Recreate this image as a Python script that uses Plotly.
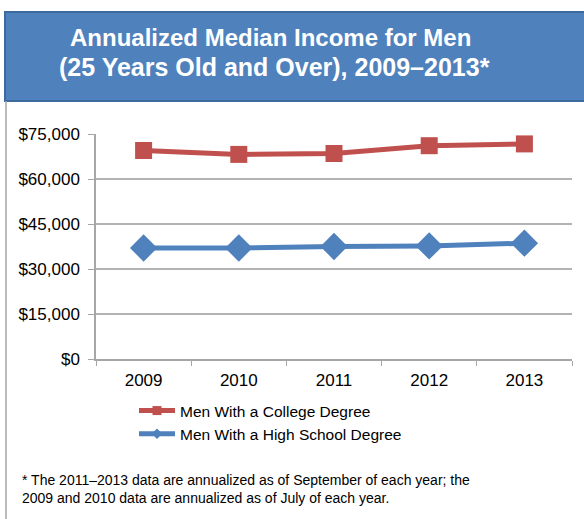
import plotly.graph_objects as go

years = ["2009", "2010", "2011", "2012", "2013"]
college = [69500, 68200, 68500, 71100, 71700]
high_school = [37000, 37000, 37500, 37700, 38600]
series_names = ["Men With a College Degree", "Men With a High School Degree"]
y_ticks = [0, 15000, 30000, 45000, 60000, 75000]
y_tick_labels = ["$" + format(v, ",") for v in y_ticks]

W, H = 584, 519
L, R, T, B = 96, 572, 134, 359  # plot area in px
pw, ph = R - L, B - T

def px_x(x):
    return (x - L) / pw

def px_y(y):
    return (B - y) / ph

RED = "#C0504D"
BLUE = "#4F81BD"
FONT = "Liberation Sans, Arial, sans-serif"

fig = go.Figure()
fig.add_trace(go.Scatter(x=years, y=college, mode="lines+markers", name=series_names[0],
                         line=dict(color=RED, width=5),
                         marker=dict(symbol="square", size=17, color=RED),
                         showlegend=False))
fig.add_trace(go.Scatter(x=years, y=high_school, mode="lines+markers", name=series_names[1],
                         line=dict(color=BLUE, width=5),
                         marker=dict(symbol="diamond", size=21, color=BLUE),
                         showlegend=False))
# legend entries with small symbols
fig.add_trace(go.Scatter(x=[None], y=[None], mode="lines+markers", name=series_names[0],
                         line=dict(color=RED, width=5),
                         marker=dict(symbol="square", size=9, color=RED)))
fig.add_trace(go.Scatter(x=[None], y=[None], mode="lines+markers", name=series_names[1],
                         line=dict(color=BLUE, width=5),
                         marker=dict(symbol="diamond", size=8, color=BLUE)))

shapes = [
    # title box
    dict(type="rect", xref="paper", yref="paper",
         x0=px_x(5), x1=px_x(600), y0=px_y(12), y1=px_y(101),
         fillcolor="#4F81BD", line=dict(color="#3D6A9E", width=2), layer="below"),
    # left frame line
    dict(type="line", xref="paper", yref="paper",
         x0=px_x(6), x1=px_x(6), y0=px_y(101), y1=px_y(525),
         line=dict(color="#A6A6A6", width=1.5)),
]

annotations = [
    dict(text="<b>Annualized Median Income for Men</b>", xref="paper", yref="paper",
         x=px_x(270), y=px_y(37), xanchor="center", yanchor="middle", showarrow=False,
         font=dict(family=FONT, size=24, color="white")),
    dict(text="<b>(25 Years Old and Over), 2009\u20132013*</b>", xref="paper", yref="paper",
         x=px_x(274), y=px_y(67), xanchor="center", yanchor="middle", showarrow=False,
         font=dict(family=FONT, size=25, color="white")),
    dict(text="* The 2011\u20132013 data are annualized as of September of each year; the<br>"
              "2009 and 2010 data are annualized as of July of each year.",
         xref="paper", yref="paper", x=px_x(20), y=px_y(489), xanchor="left", yanchor="middle",
         align="left", showarrow=False,
         font=dict(family=FONT, size=14, color="black")),
]

fig.update_layout(
    width=W, height=H,
    margin=dict(l=L, r=W - R, t=T, b=H - B, pad=0),
    paper_bgcolor="white", plot_bgcolor="white",
    font=dict(family=FONT, color="black"),
    shapes=shapes, annotations=annotations,
    legend=dict(x=px_x(134), y=px_y(394), xanchor="left", yanchor="top",
                font=dict(family=FONT, size=15.5, color="black"),
                bgcolor="rgba(0,0,0,0)", itemwidth=36, tracegroupgap=0),
    xaxis=dict(type="category", range=[-0.5, 4.5], tickson="boundaries",
               ticks="outside", ticklen=5, tickcolor="#A6A6A6",
               showline=True, linecolor="#A6A6A6", linewidth=1.5,
               ticklabelstandoff=5,
               showgrid=False, tickfont=dict(size=17), fixedrange=True),
    yaxis=dict(range=[0, 75000], tickmode="array", tickvals=y_ticks, ticktext=y_tick_labels,
               ticks="outside", ticklen=6, tickcolor="#A6A6A6",
               showline=True, linecolor="#A6A6A6", linewidth=1.5,
               ticklabelstandoff=5,
               showgrid=True, gridcolor="#B3B3B3", gridwidth=1.5,
               zeroline=False, tickfont=dict(size=17), fixedrange=True),
)

fig.write_html("out.html", config={"displayModeBar": False},
               post_script="document.body.style.margin='0px';")
